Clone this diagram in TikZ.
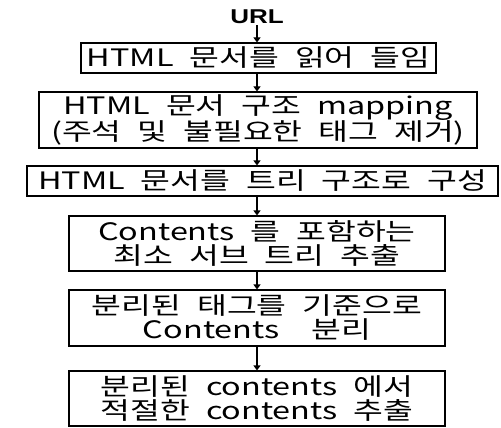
\documentclass[tikz,border=0pt]{standalone}
\usepackage{fontspec}
\setmainfont{Noto Sans CJK KR}[FakeStretch=1.35,WordSpace=2.2]
\newfontfamily\urlfont{Liberation Sans}[FakeStretch=1.3]
\usetikzlibrary{arrows.meta}
\begin{document}
\begin{tikzpicture}[x=1pt,y=-1pt,
  box/.style={draw=black,line width=1.1pt,inner sep=0pt,align=center,
    font=\fontsize{24}{24}\selectfont},
  arr/.style={line width=1.1pt,-{Triangle[length=5pt,width=7pt]}}]
\useasboundingbox (0,0) rectangle (501,428);
\node[font=\urlfont\bfseries\fontsize{20}{22}\selectfont,inner sep=1pt] (url) at (257,17) {URL};
\node[box,minimum width=355pt,minimum height=30pt] (b1) at (258.5,58) {HTML 문서를 읽어 들임};
\node[box,minimum width=438pt,minimum height=56pt] (b2) at (258,120) {HTML 문서 구조 mapping\\(주석 및 불필요한 태그 제거)};
\node[box,minimum width=471pt,minimum height=30pt] (b3) at (262.5,181) {HTML 문서를 트리 구조로 구성};
\node[box,minimum width=376pt,minimum height=55pt] (b4) at (257,243.5) {Contents 를 포함하는\\최소 서브 트리 추출};
\node[box,minimum width=376pt,minimum height=56pt] (b5) at (257,318) {분리된 태그를 기준으로\\Contents~ 분리};
\node[box,minimum width=376pt,minimum height=55pt] (b6) at (257,398.5) {분리된 contents 에서\\적절한 contents 추출};
\draw[arr] (url.south) -- (b1.north -| url);
\draw[arr] (b1.south -| url) -- (b2.north -| url);
\draw[arr] (b2.south -| url) -- (b3.north -| url);
\draw[arr] (b3.south -| url) -- (b4.north -| url);
\draw[arr] (b4.south -| url) -- (b5.north -| url);
\draw[arr] (b5.south -| url) -- (b6.north -| url);
\end{tikzpicture}
\end{document}
